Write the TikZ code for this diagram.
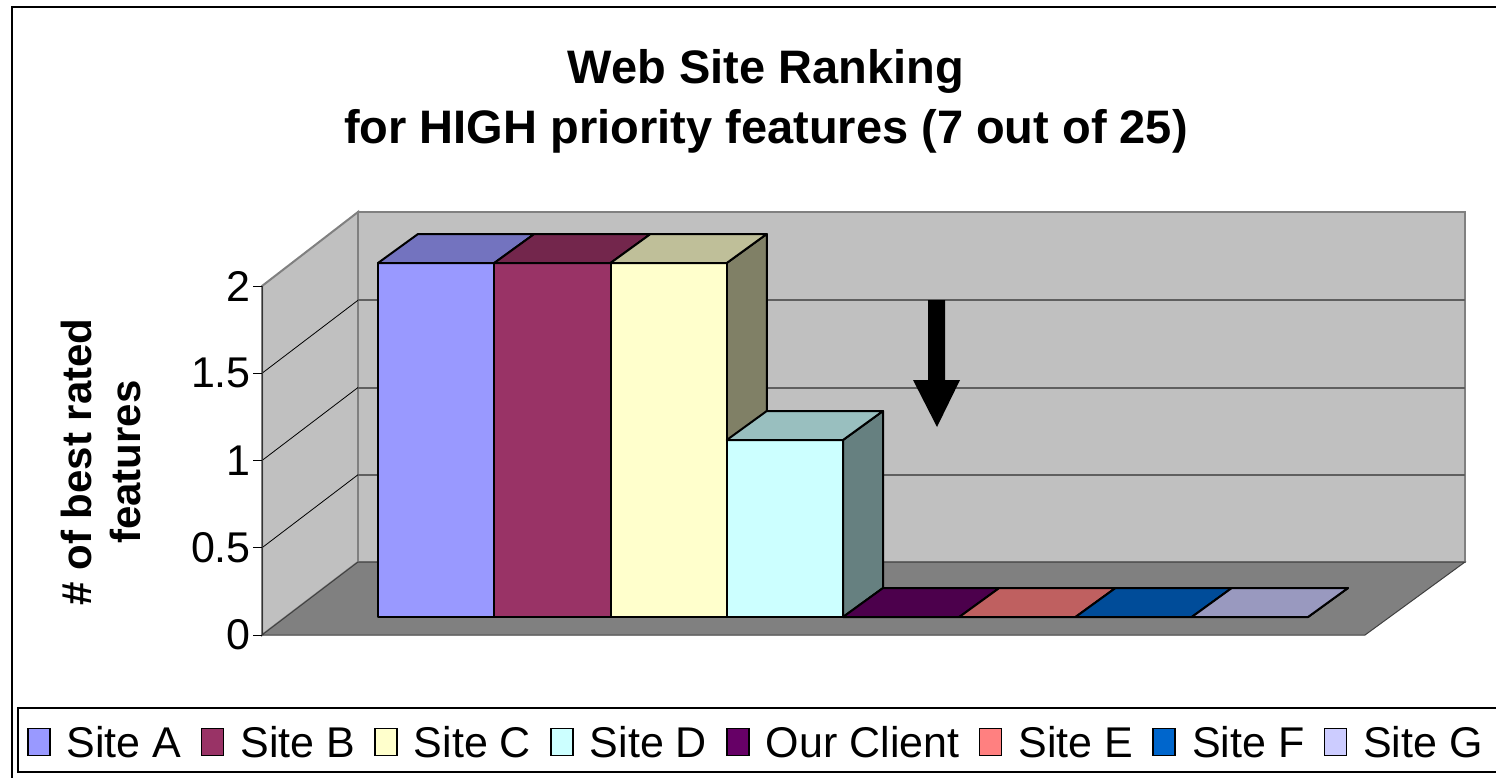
\documentclass[tikz,border=0pt]{standalone}
\usepackage{fontspec}
\setmainfont{Liberation Sans}
\usetikzlibrary{positioning}

\definecolor{siteA}{HTML}{9999FF}
\definecolor{siteB}{HTML}{993366}
\definecolor{siteC}{HTML}{FFFFCC}
\definecolor{siteD}{HTML}{CCFFFF}
\definecolor{client}{HTML}{660066}
\definecolor{siteE}{HTML}{FF8080}
\definecolor{siteF}{HTML}{0066CC}
\definecolor{siteG}{HTML}{CCCCFF}
\definecolor{wallgray}{HTML}{C0C0C0}
\definecolor{floorgray}{HTML}{808080}
\definecolor{gridgray}{HTML}{5F5F5F}

\begin{document}
\begin{tikzpicture}[x=1pt,y=-1pt,
    bar/.style={draw=black,line width=2pt,line join=round},
    legsq/.style={draw=black,line width=1.5pt,minimum width=22pt,minimum height=27pt,inner sep=0pt},
    legtxt/.style={inner sep=0pt,font=\fontsize{43}{46}\selectfont},
    ticklab/.style={anchor=east,inner sep=0pt,font=\fontsize{43}{46}\selectfont}]
  \useasboundingbox (0,0) rectangle (1496,778);
    % Draw the chart frame
    \draw[line width=2pt] (12,778) -- (12,7) -- (1496,7);
    \node[align=center,font=\bfseries\fontsize{47}{60}\selectfont] (title) at (766,101)
      {Web Site Ranking\\for HIGH priority features (7 out of 25)};
    % Draw the walls and the floor
    \filldraw[fill=wallgray,draw=floorgray,line width=2pt] (262,286) -- (358,212) -- (358,562) -- (262,635) -- cycle;
    \filldraw[fill=wallgray,draw=floorgray,line width=2.5pt] (358,212) rectangle (1465,562);
    \filldraw[fill=floorgray,draw=black!75,line width=1pt] (262,635) -- (1365,635) -- (1465,562) -- (358,562) -- cycle;
    % Draw the grid lines and the ticks
    \foreach \v in {0.5,1,1.5}{
      \draw[black,line width=0.8pt] (262,{635-174.5*\v}) -- ++(96,-73);
      \draw[gridgray,line width=2pt] (358,{562-174.5*\v}) -- (1465,{562-174.5*\v});
    }
    \draw[black!80,line width=1pt] (262,286) -- (262,635);
    \foreach \v [count=\i] in {0,0.5,1,1.5,2}{
      \draw[black,line width=1pt] (253,{635-174.5*\v}) -- (262,{635-174.5*\v});
      \node[ticklab] (tick\i) at (251,{635-174.5*\v}) {\v};
    }
    \node[rotate=90,align=center,font=\bfseries\fontsize{42}{49}\selectfont] (ylab) at (101,462)
      {\# of best rated\\features};
    % Draw the bars
    \foreach \i/\v/\col in {0/2/siteA,1/2/siteB,2/2/siteC,3/1/siteD,4/0/client,5/0/siteE,6/0/siteF,7/0/siteG}{
      \pgfmathsetmacro\xl{378+116.25*\i}
      \pgfmathsetmacro\xr{\xl+116.25}
      \pgfmathsetmacro\yt{617-177*\v}
      \filldraw[bar,fill=\col!50!black] (\xr,\yt) -- ++(40,-29) -- ({\xr+40},588) -- (\xr,617) -- cycle;
      \filldraw[bar,fill=\col] (\xl,\yt) rectangle (\xr,617);
      \filldraw[bar,fill=\col!75!black] (\xl,\yt) -- ++(40,-29) -- ({\xr+40},{\yt-29}) -- (\xr,\yt) -- cycle;
    }
    % Draw the arrow
    \fill[black] (928,300) -- (945,300) -- (945,380) -- (960,380) -- (937,427) -- (913,380) -- (928,380) -- cycle;
    % Draw the legend
    \draw[line width=1.5pt] (1496,708) -- (18,708) -- (18,772) -- (1496,772);
    \coordinate (l0) at (8,742);
    \foreach \col/\txt [count=\i] in {siteA/Site A,siteB/Site B,siteC/Site C,siteD/Site D,client/Our Client,siteE/Site E,siteF/Site F,siteG/Site G}{
      \pgfmathtruncatemacro\prev{\i-1}
      \node[legsq,fill=\col,right=19pt of l\prev] (sq\i) {};
      \node[legtxt,right=16pt of sq\i] (l\i) {\txt};
    }
\end{tikzpicture}
\end{document}
